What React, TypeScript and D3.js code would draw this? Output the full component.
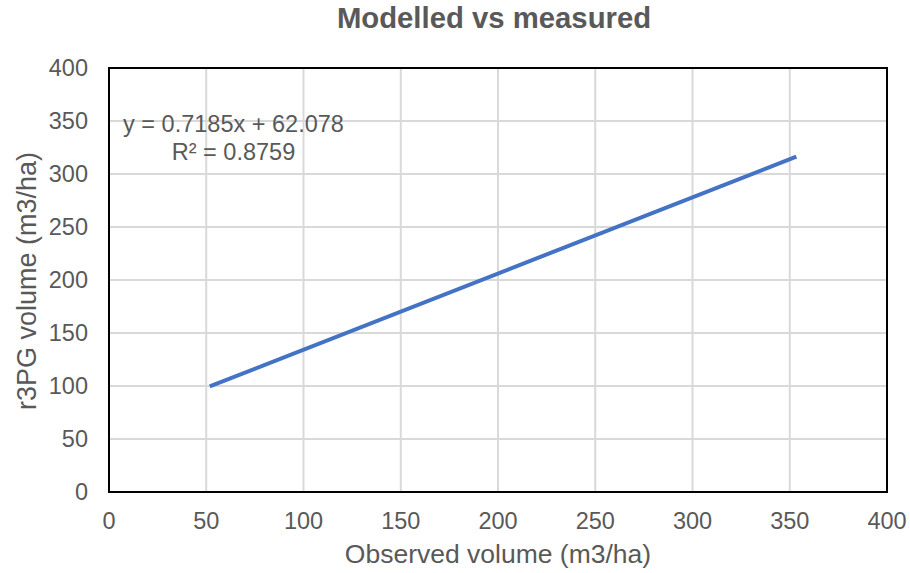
import * as d3 from "d3";

const xTicks = [0, 50, 100, 150, 200, 250, 300, 350, 400];
const yTicks = [0, 50, 100, 150, 200, 250, 300, 350, 400];
// trendline endpoints
const trend = [
  { x: 51.8, y: 99.6 },
  { x: 353.4, y: 316.4 },
];
const equation = "y = 0.7185x + 62.078";
const rSquared = "R² = 0.8759";

export default function App() {
  const width = 910;
  const height = 573;
  const left = 109;
  const right = 887;
  const top = 68;
  const bottom = 492;
  const font = "'Liberation Sans', Arial, sans-serif";
  const grey = "#595959";

  const x = d3.scaleLinear([0, 400], [left, right]);
  const y = d3.scaleLinear([0, 400], [bottom, top]);
  const line = d3.line<{ x: number; y: number }>(d => x(d.x), d => y(d.y));

  return (
    <svg
      width={width}
      height={height}
      style={{ position: "absolute", left: 0, top: 0, background: "white" }}
      fontFamily={font}
    >
      <rect width={width} height={height} fill="white" />
      <text x={494} y={28} textAnchor="middle" fontSize={29.3} fontWeight="bold" fill={grey}>
        Modelled vs measured
      </text>
      <g stroke="#d9d9d9" strokeWidth={2}>
        {xTicks.slice(1, -1).map(t => (
          <line key={"gx" + t} x1={x(t)} x2={x(t)} y1={top} y2={bottom} />
        ))}
        {yTicks.slice(1, -1).map(t => (
          <line key={"gy" + t} x1={left} x2={right} y1={y(t)} y2={y(t)} />
        ))}
      </g>
      <rect
        x={left}
        y={top}
        width={right - left}
        height={bottom - top}
        fill="none"
        stroke="black"
        strokeWidth={2}
      />
      <g fontSize={23.5} fill={grey}>
        {xTicks.map(t => (
          <text key={"tx" + t} x={x(t)} y={bottom + 37} textAnchor="middle">
            {t}
          </text>
        ))}
        {yTicks.map(t => (
          <text key={"ty" + t} x={left - 21} y={y(t) + 8} textAnchor="end">
            {t}
          </text>
        ))}
      </g>
      <path d={line(trend) ?? ""} fill="none" stroke="#4472C4" strokeWidth={4} />
      <g fontSize={23.5} fill={grey}>
        <text x={233.5} y={132} textAnchor="middle">{equation}</text>
        <text x={233.5} y={160} textAnchor="middle">{rSquared}</text>
      </g>
      <text x={498} y={563} textAnchor="middle" fontSize={26.5} fill={grey}>
        Observed volume (m3/ha)
      </text>
      <text
        transform={`translate(36,281) rotate(-90)`}
        textAnchor="middle"
        fontSize={27}
        fill={grey}
      >
        r3PG volume (m3/ha)
      </text>
    </svg>
  );
}
